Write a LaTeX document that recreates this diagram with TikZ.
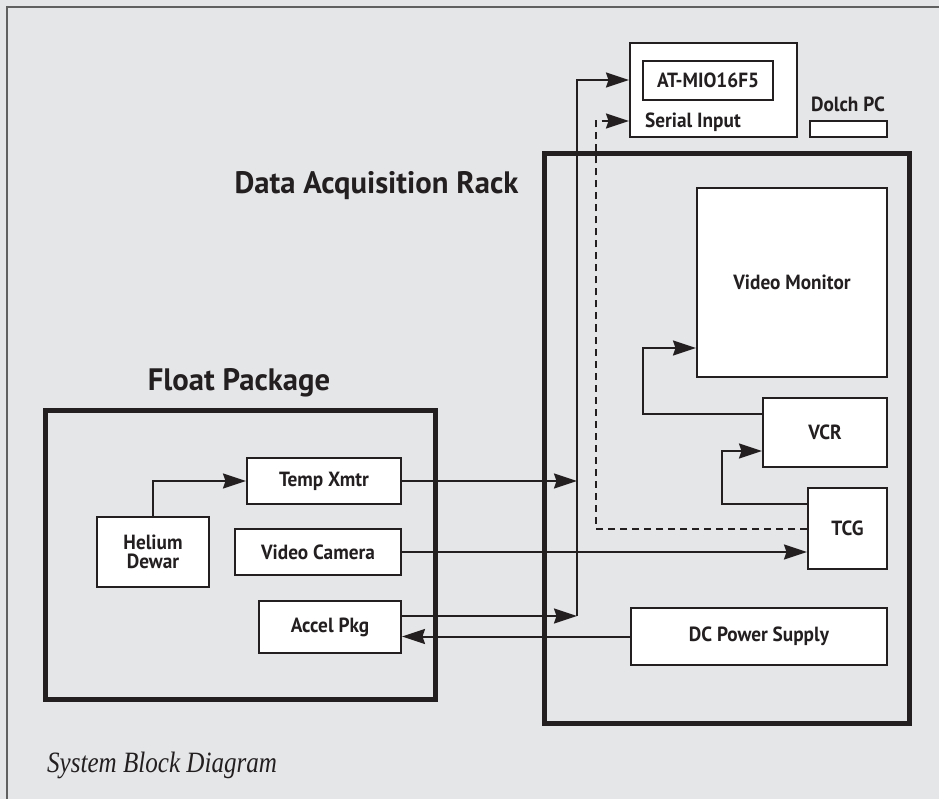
\documentclass[tikz,border=0pt]{standalone}
\usepackage{fontspec}
\usetikzlibrary{arrows.meta}
\newfontfamily\labfont{PT Sans}[FakeStretch=0.94]
\newfontfamily\titfont{PT Sans}[FakeStretch=0.99]
\newfontfamily\capfont{Liberation Serif}[FakeStretch=0.85]
\definecolor{bgc}{HTML}{E5E6E8}
\definecolor{ink}{HTML}{231F20}
\definecolor{framec}{HTML}{606060}
\tikzset{
  box/.style={draw=ink, fill=white, line width=2pt, inner sep=0pt, text=ink,
    font=\labfont\bfseries\fontsize{20.5}{19}\selectfont, align=center},
  bigbox/.style={draw=ink, line width=5pt, inner sep=0pt},
  title/.style={text=ink, inner sep=0pt, font=\titfont\bfseries\fontsize{31}{34}\selectfont},
  lbl/.style={text=ink, inner sep=0pt, font=\labfont\bfseries\fontsize{20.5}{22}\selectfont},
  conn/.style={draw=ink, line width=2pt},
  arr/.style={-{Stealth[length=23pt,width=15pt,inset=2.5pt]}},
  dsh/.style={dash pattern=on 7pt off 5pt},
}
\begin{document}
\begin{tikzpicture}[x=1pt,y=-1pt]
\useasboundingbox (0,0) rectangle (939,799);
\fill[bgc] (0,0) rectangle (939,799);
\draw[framec, line width=2pt] (6,7) -- (939,7);
\draw[framec, line width=2pt] (7,6) -- (7,799);

% containers
\node[bigbox, minimum width=365pt, minimum height=569pt] (rack) at (726.5,438.5) {};
\node[bigbox, minimum width=390pt, minimum height=289pt] (float) at (240,554.5) {};
\node[title, anchor=base] (rackt) at (376.5,194) {Data Acquisition Rack};
\node[title, anchor=base] (floatt) at (239,390) {Float Package};

% PC
\node[box, minimum width=167pt, minimum height=94pt] (atmio) at (713.5,90) {};
\node[box, minimum width=130pt, minimum height=39pt] (mio) at (708,80.5) {AT-MIO16F5};
\node[lbl, anchor=base west] (serial) at (645,128) {Serial Input};
\node[lbl, anchor=base] (dolcht) at (848,112) {Dolch PC};
\node[box, minimum width=77pt, minimum height=16pt] (dolch) at (848.5,129) {};

% rack contents
\node[box, minimum width=190pt, minimum height=189pt] (mon) at (792,282.5) {Video Monitor};
\node[box, minimum width=124pt, minimum height=69pt] (vcr) at (825,432.5) {VCR};
\node[box, minimum width=79pt, minimum height=81pt] (tcg) at (847.5,528.5) {TCG};
\node[box, minimum width=256pt, minimum height=57pt] (dc) at (759,636.5) {DC Power Supply};

% float contents
\node[box, minimum width=112pt, minimum height=70pt] (hel) at (153,552) {Helium\\Dewar};
\node[box, minimum width=154pt, minimum height=46pt] (temp) at (324,481) {Temp Xmtr};
\node[box, minimum width=166pt, minimum height=46pt] (cam) at (318,552) {Video Camera};
\node[box, minimum width=142pt, minimum height=52pt] (acc) at (330,627) {Accel Pkg};

% caption
\node[text=ink, inner sep=0pt, anchor=base west, font=\capfont\itshape\fontsize{29.5}{32}\selectfont] (cap) at (47,772) {System Block Diagram};

% connector helper points
\coordinate (bT) at (577,80);
\coordinate (bA) at (577,616);
\coordinate (dk) at (596,121);
\coordinate (dt) at (604,121);
\coordinate (k1) at (722,451);
\coordinate (k2) at (643,348);

% connectors
\draw[conn,arr] (hel.north) |- (temp.west);
\draw[conn,arr] (temp.east) -- (temp.east -| bT);
\draw[conn,arr] ([yshift=11pt]acc.east) -- (bA);
\draw[conn,arr] (bA) -- (bT) -- (bT -| atmio.west);
\draw[conn,arr] (dc.west) -- (dc.west -| acc.east);
\draw[conn,arr] (cam.east) -- (cam.east -| tcg.west);
\draw[conn,dsh] (tcg.west) -| (dk) -- (dt);
\draw[conn,arr] (dt) -- (dt -| atmio.west);
\draw[conn,arr] ([yshift=24.5pt]tcg.west) -| (k1) -- (k1 -| vcr.west);
\draw[conn,arr] ([yshift=18.5pt]vcr.west) -| (k2) -- (k2 -| mon.west);
\end{tikzpicture}
\end{document}
